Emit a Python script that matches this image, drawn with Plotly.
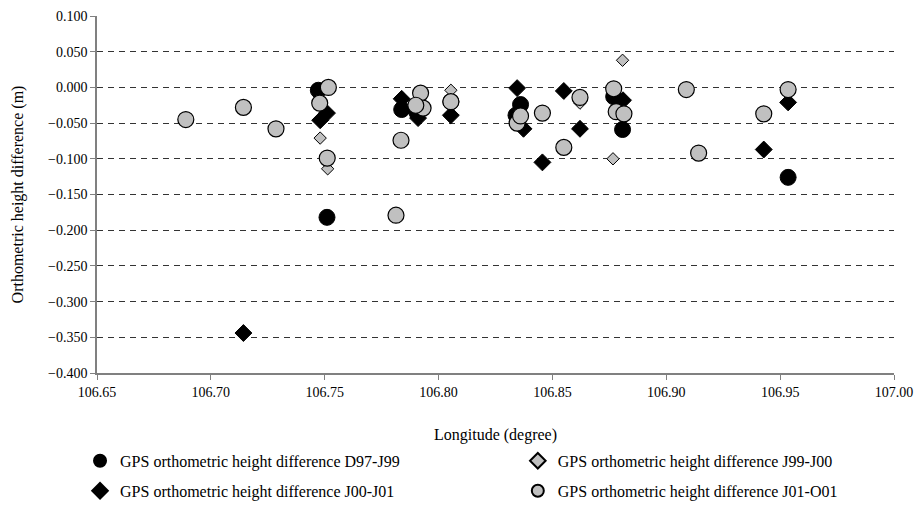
import plotly.graph_objects as go

# ---- data ----
d97_j99_lon = [106.7472, 106.7510, 106.7838, 106.7905, 106.8054, 106.8360, 106.8340, 106.8769, 106.8808, 106.9535]
d97_j99_val = [-0.004, -0.182, -0.031, -0.035, -0.020, -0.024, -0.039, -0.013, -0.059, -0.126]

j99_j00_lon = [106.7480, 106.7513, 106.8054, 106.8621, 106.8808, 106.8766]
j99_j00_val = [-0.071, -0.114, -0.004, -0.022, 0.038, -0.100]

j00_j01_lon = [106.7143, 106.7480, 106.7510, 106.7838, 106.7910, 106.8054, 106.8345, 106.8373,
               106.8456, 106.8550, 106.8621, 106.8810, 106.9428, 106.9535]
j00_j01_val = [-0.344, -0.046, -0.036, -0.016, -0.043, -0.039, -0.001, -0.058,
               -0.105, -0.005, -0.058, -0.018, -0.087, -0.021]

j01_o01_lon = [106.6890, 106.7143, 106.7286, 106.7478, 106.7516, 106.7511, 106.7835, 106.7813,
               106.7921, 106.7932, 106.7900, 106.8054, 106.8345, 106.8360, 106.8456, 106.8550,
               106.8621, 106.8769, 106.8780, 106.8814, 106.9088, 106.9142, 106.9428, 106.9535]
j01_o01_val = [-0.045, -0.028, -0.058, -0.022, 0.000, -0.099, -0.074, -0.179,
               -0.008, -0.029, -0.025, -0.020, -0.050, -0.040, -0.036, -0.084,
               -0.014, -0.002, -0.034, -0.037, -0.003, -0.092, -0.037, -0.003]

names = ["GPS orthometric height difference D97-J99",
         "GPS orthometric height difference J99-J00",
         "GPS orthometric height difference J00-J01",
         "GPS orthometric height difference J01-O01"]

FONT = "Liberation Serif"
GRAY = "#C0C0C0"

fig = go.Figure()
fig.add_trace(go.Scatter(x=d97_j99_lon, y=d97_j99_val, mode="markers", name=names[0],
                         marker=dict(symbol="circle", size=16, color="black",
                                     line=dict(color="black", width=1)),
                         legend="legend"))
fig.add_trace(go.Scatter(x=j99_j00_lon, y=j99_j00_val, mode="markers", name=names[1],
                         marker=dict(symbol="diamond", size=9.5, color=GRAY,
                                     line=dict(color="black", width=1)),
                         legend="legend2"))
fig.add_trace(go.Scatter(x=j00_j01_lon, y=j00_j01_val, mode="markers", name=names[2],
                         marker=dict(symbol="diamond", size=13, color="black",
                                     line=dict(color="black", width=1)),
                         legend="legend3"))
fig.add_trace(go.Scatter(x=j01_o01_lon, y=j01_o01_val, mode="markers", name=names[3],
                         marker=dict(symbol="circle", size=16, color=GRAY,
                                     line=dict(color="black", width=1.2)),
                         legend="legend4"))

leg_common = dict(orientation="h", xanchor="left", yanchor="middle",
                  itemsizing="constant",
                  font=dict(family=FONT, size=16, color="black"),
                  bgcolor="rgba(0,0,0,0)", itemwidth=30)

row1_y, row2_y = -0.246, -0.330
col1_x, col2_x = -0.0213, 0.528

fig.update_layout(
    width=922, height=515,
    margin=dict(l=89, r=36, t=7.5, b=150, autoexpand=False),
    paper_bgcolor="white", plot_bgcolor="white",
    font=dict(family=FONT, size=14, color="black"),
    showlegend=True,
    legend=dict(x=col1_x, y=row1_y, **leg_common),
    legend2=dict(x=col2_x, y=row1_y, **leg_common),
    legend3=dict(x=col1_x, y=row2_y, **leg_common),
    legend4=dict(x=col2_x, y=row2_y, **leg_common),
    xaxis=dict(range=[106.65, 107.00], dtick=0.05, tick0=106.65, tickformat=".2f",
               automargin=False,
               showgrid=False, zeroline=False, showline=True, linecolor="#808080", linewidth=1.5,
               ticks="outside", ticklen=5, tickcolor="#808080", tickwidth=1,
               tickfont=dict(family=FONT, size=14, color="black"),
               title=dict(text="Longitude (degree)", standoff=30,
                          font=dict(family=FONT, size=16, color="black"))),
    yaxis=dict(range=[-0.4, 0.1], dtick=0.05, tick0=0.1, tickformat=".3f",
               automargin=False,
               showgrid=True, gridcolor="#333333", griddash="6px,5px", gridwidth=1,
               zeroline=False, showline=True, linecolor="#808080", linewidth=1.5,
               ticks="outside", ticklen=5, tickcolor="#808080", tickwidth=1,
               tickfont=dict(family=FONT, size=14, color="black"),
               title=dict(text="Orthometric height difference (m)", standoff=20,
                          font=dict(family=FONT, size=16, color="black"))),
)

fig.write_html("out.html")
